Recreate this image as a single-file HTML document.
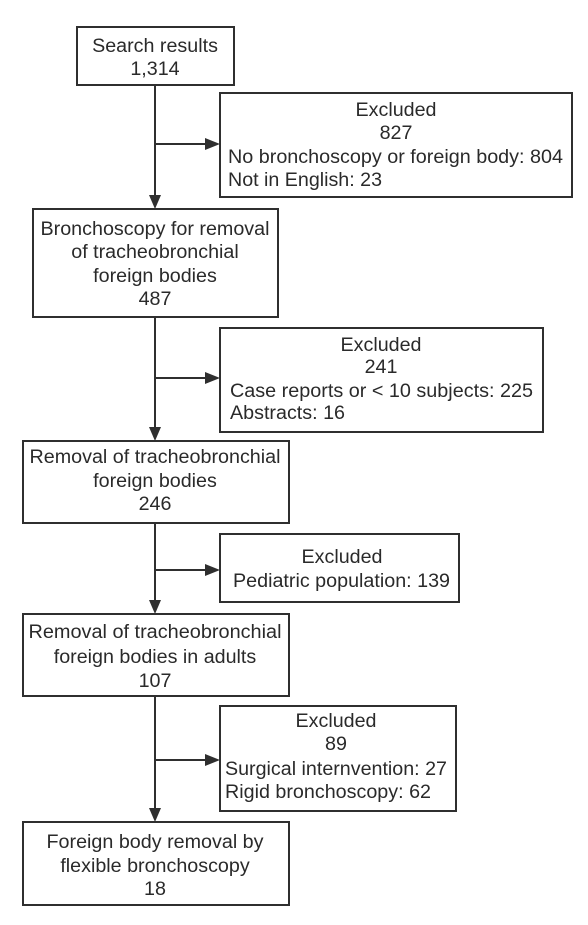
<!DOCTYPE html>
<html><head><meta charset="utf-8"><style>
html,body{margin:0;padding:0;background:#fff;}
svg{display:block;}
text{font-family:"Liberation Sans",Arial,sans-serif;font-size:19.7px;fill:#2a2a2a;}
</style></head><body>
<svg width="588" height="925" viewBox="0 0 588 925" xmlns="http://www.w3.org/2000/svg">
<g fill="none" stroke="#2f2f2f" stroke-width="2">
<rect x="77" y="27" width="157" height="58"/>
<rect x="220" y="93" width="352" height="104"/>
<rect x="33" y="209" width="245" height="108"/>
<rect x="220" y="328" width="323" height="104"/>
<rect x="23" y="441" width="266" height="82"/>
<rect x="220" y="534" width="239" height="68"/>
<rect x="23" y="614" width="266" height="82"/>
<rect x="220" y="706" width="236" height="105"/>
<rect x="23" y="822" width="266" height="83"/>
<line x1="155" y1="85" x2="155" y2="196"/>
<line x1="155" y1="317" x2="155" y2="428"/>
<line x1="155" y1="523" x2="155" y2="601"/>
<line x1="155" y1="696" x2="155" y2="809"/>
<line x1="155" y1="144" x2="206" y2="144"/>
<line x1="155" y1="378" x2="206" y2="378"/>
<line x1="155" y1="570" x2="206" y2="570"/>
<line x1="155" y1="760" x2="206" y2="760"/>
</g>
<g fill="#2f2f2f">
<polygon points="149,195 161,195 155,209"/>
<polygon points="149,427 161,427 155,441"/>
<polygon points="149,600 161,600 155,614"/>
<polygon points="149,808 161,808 155,822"/>
<polygon points="205,138 205,150 220,144"/>
<polygon points="205,372 205,384 220,378"/>
<polygon points="205,564 205,576 220,570"/>
<polygon points="205,754 205,766 220,760"/>
</g>
<g text-anchor="middle">
<text x="155" y="52">Search results</text>
<text x="155" y="75">1,314</text>
<text x="396" y="116">Excluded</text>
<text x="396" y="139">827</text>
<text x="155" y="235" textLength="229" lengthAdjust="spacingAndGlyphs">Bronchoscopy for removal</text>
<text x="155" y="258">of tracheobronchial</text>
<text x="155" y="282">foreign bodies</text>
<text x="155" y="305">487</text>
<text x="381" y="351">Excluded</text>
<text x="381" y="373">241</text>
<text x="155" y="463" textLength="251" lengthAdjust="spacingAndGlyphs">Removal of tracheobronchial</text>
<text x="155" y="487">foreign bodies</text>
<text x="155" y="510">246</text>
<text x="342" y="563">Excluded</text>
<text x="155" y="638" textLength="253" lengthAdjust="spacingAndGlyphs">Removal of tracheobronchial</text>
<text x="155" y="663">foreign bodies in adults</text>
<text x="155" y="687">107</text>
<text x="336" y="727">Excluded</text>
<text x="336" y="750">89</text>
<text x="155" y="848" textLength="217" lengthAdjust="spacingAndGlyphs">Foreign body removal by</text>
<text x="155" y="872">flexible bronchoscopy</text>
<text x="155" y="895">18</text>
</g>
<text x="228" y="163" textLength="335" lengthAdjust="spacingAndGlyphs">No bronchoscopy or foreign body: 804</text>
<text x="228" y="186" textLength="154" lengthAdjust="spacingAndGlyphs">Not in English: 23</text>
<text x="230" y="397" textLength="303" lengthAdjust="spacingAndGlyphs">Case reports or &lt; 10 subjects: 225</text>
<text x="230" y="419" textLength="115" lengthAdjust="spacingAndGlyphs">Abstracts: 16</text>
<text x="233" y="587" textLength="217" lengthAdjust="spacingAndGlyphs">Pediatric population: 139</text>
<text x="225" y="775" textLength="222" lengthAdjust="spacingAndGlyphs">Surgical internvention: 27</text>
<text x="225" y="798" textLength="206" lengthAdjust="spacingAndGlyphs">Rigid bronchoscopy: 62</text>
</svg>
</body></html>
